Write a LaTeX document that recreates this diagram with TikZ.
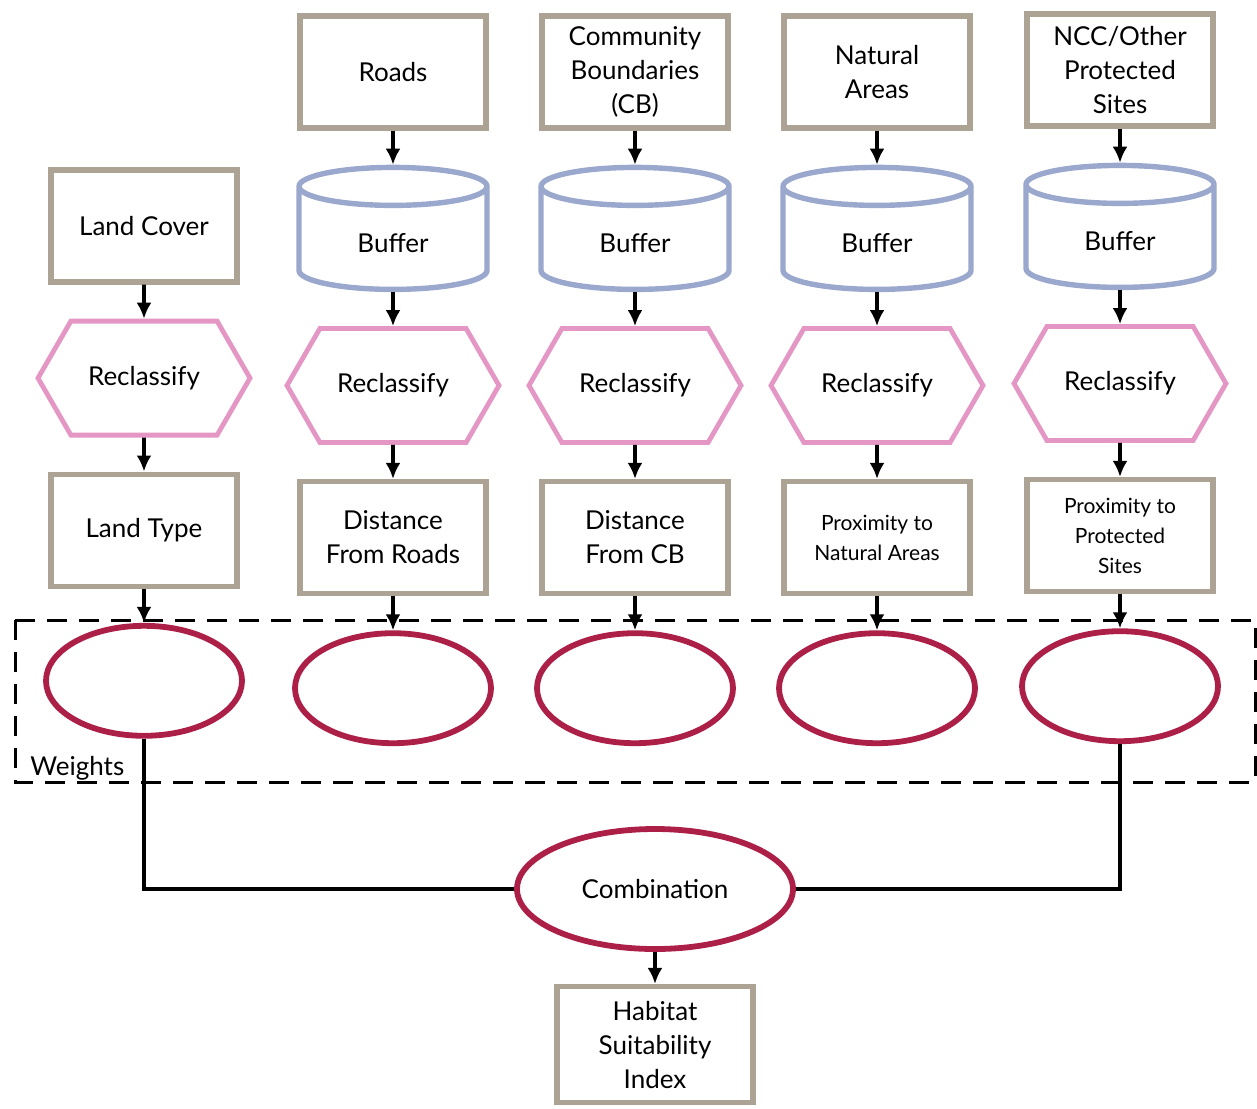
\documentclass[tikz,border=0pt]{standalone}
\usepackage{fontspec}
\setmainfont{Lato}
\usetikzlibrary{arrows.meta,positioning,shapes.geometric,shapes.symbols}
\definecolor{boxtan}{RGB}{172,163,149}
\definecolor{cylblue}{RGB}{155,168,205}
\definecolor{hexpink}{RGB}{228,150,196}
\definecolor{wtred}{RGB}{172,32,72}
\tikzset{
  layer/.style={draw=boxtan, line width=2.7pt, align=center, font=\fontsize{13}{17}\selectfont,
                minimum width=93pt, minimum height=56pt, inner sep=2pt},
  smalllayer/.style={layer, font=\fontsize{10.5}{15}\selectfont},
  buffer/.style={cylinder, shape border rotate=90, aspect=0.45, draw=cylblue, line width=2.7pt,
                 minimum width=94pt, minimum height=61pt, font=\fontsize{13}{17}\selectfont},
  reclass/.style={signal, signal to=west and east, signal pointer angle=120, draw=hexpink,
                  line width=2.4pt, minimum width=106pt, minimum height=57pt, font=\fontsize{13}{17}\selectfont},
  weight/.style={ellipse, draw=wtred, line width=2.9pt, minimum width=98pt, minimum height=55pt,
                 font=\fontsize{13}{17}\selectfont},
  flow/.style={-{Latex[length=8pt,width=7.5pt]}, line width=1.8pt},
  link/.style={line width=1.8pt},
}
\begin{document}
\begin{tikzpicture}[x=0.5pt, y=-0.5pt, node distance=17pt]
\useasboundingbox (0,0) rectangle (1257,1108);
% column 1
\node[layer] (lc) at (144,226) {Land Cover};
\node[reclass, below=of lc] (r1) {Reclassify};
\node[layer, below=of r1] (lt) {Land Type};
\node[weight, below=of lt] (w1) {};
% column 2
\node[layer] (rd) at (393,72) {Roads};
\node[buffer, below=of rd] (b2) {Buffer};
\node[reclass, below=of b2] (r2) {Reclassify};
\node[layer, below=of r2] (dr) {Distance\\From Roads};
\node[weight, below=of dr] (w2) {};
% column 3
\node[layer] (cb) at (635,72) {Community\\Boundaries\\(CB)};
\node[buffer, below=of cb] (b3) {Buffer};
\node[reclass, below=of b3] (r3) {Reclassify};
\node[layer, below=of r3] (dc) {Distance\\From CB};
\node[weight, below=of dc] (w3) {};
% column 4
\node[layer] (na) at (877,72) {Natural\\Areas};
\node[buffer, below=of na] (b4) {Buffer};
\node[reclass, below=of b4] (r4) {Reclassify};
\node[smalllayer, below=of r4] (pn) {Proximity to\\Natural Areas};
\node[weight, below=of pn] (w4) {};
% column 5
\node[layer] (ps) at (1120,70) {NCC/Other\\Protected\\Sites};
\node[buffer, below=of ps] (b5) {Buffer};
\node[reclass, below=of b5] (r5) {Reclassify};
\node[smalllayer, below=of r5] (pp) {Proximity to\\Protected\\Sites};
\node[weight, below=of pp] (w5) {};
% weights frame
\draw[dashed, line width=1.5pt, dash pattern=on 10pt off 6pt] (15,620) rectangle (1255,782);
\node[anchor=base west, font=\fontsize{13}{17}\selectfont, inner sep=0pt] (wl) at (30,775) {Weights};
% combination
\node[weight, minimum width=138pt, minimum height=60pt] (cmb) at (655,889) {Combination};
\node[layer, minimum width=98pt, minimum height=58pt, below=16pt of cmb] (hsi) {Habitat\\Suitability\\Index};
\foreach \a/\b in {rd/b2,b2/r2,r2/dr,dr/w2, cb/b3,b3/r3,r3/dc,dc/w3, na/b4,b4/r4,r4/pn,pn/w4,
                   ps/b5,b5/r5,r5/pp,pp/w5, lc/r1,r1/lt,lt/w1, cmb/hsi}
  \draw[flow] (\a) -- (\b);
\draw[link] (w1.south) |- (cmb.west);
\draw[link] (w5.south) |- (cmb.east);
\end{tikzpicture}
\end{document}
